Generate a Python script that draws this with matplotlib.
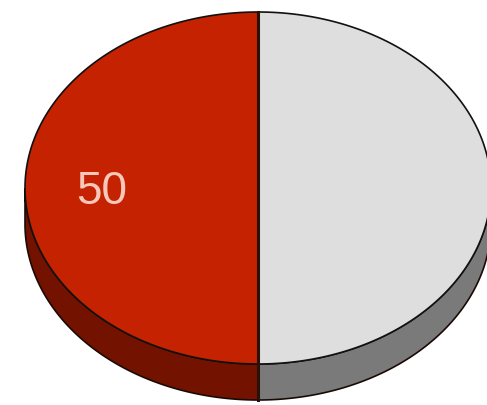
import numpy as np
from matplotlib import pyplot as plt

# pie data
values = [50, 50]
labels = ['50', '']
top_colors = ['#c42200', '#dedede']
side_colors = ['#741200', '#7a7a7a']

# geometry of the tilted pie, in pixels
cx, cy = 258, 189
rx, ry = 233, 176
depth = 36


def ellipse_pts(t0, t1, dy=0, n=200):
    t = np.radians(np.linspace(t0, t1, n))
    return cx + rx * np.cos(t), cy - ry * np.sin(t) + dy


fig = plt.figure(figsize=(4.87, 4.06), dpi=100)
ax = fig.add_axes([0, 0, 1, 1])
ax.set_xlim(0, 487)
ax.set_ylim(406, 0)
ax.axis('off')

total = float(sum(values))
angles = 90 + 360 * np.concatenate([[0], np.cumsum(values)]) / total

# side walls, only the front half (180..360 deg, repeated each turn) shows
for i in range(len(values)):
    for lo, hi in [(180, 360), (540, 720)]:
        a0, a1 = max(angles[i], lo), min(angles[i + 1], hi)
        if a1 <= a0:
            continue
        xt, yt = ellipse_pts(a0, a1)
        xb, yb = ellipse_pts(a1, a0, dy=depth)
        ax.fill(np.concatenate([xt, xb]), np.concatenate([yt, yb]),
                color=side_colors[i], ec='#1a0a05', lw=1.2, zorder=1)

# top faces
for i in range(len(values)):
    xs, ys = ellipse_pts(angles[i], angles[i + 1])
    ax.fill(np.concatenate([[cx], xs]), np.concatenate([[cy], ys]),
            color=top_colors[i], ec='#111111', lw=1.2, zorder=2)
    mid = np.radians((angles[i] + angles[i + 1]) / 2)
    if labels[i]:
        ax.text(cx + 0.67 * rx * np.cos(mid), cy - 0.67 * ry * np.sin(mid) + 3,
                labels[i], ha='center', va='center', fontsize=33,
                family='Liberation Sans', color='#f6c8ba', zorder=3)

# divider line through the middle
ax.plot([cx, cx], [cy - ry, cy + ry + depth], color='#2a1008', lw=2.2, zorder=4)

fig.savefig('out.png', dpi=100)
